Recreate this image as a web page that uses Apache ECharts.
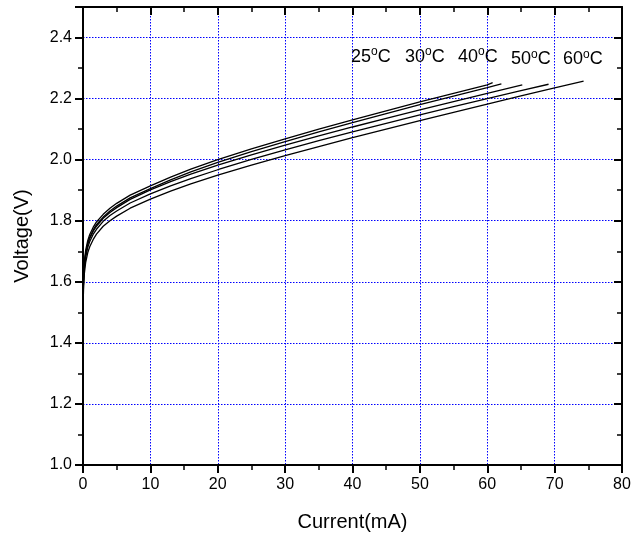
<!DOCTYPE html>
<html>
<head>
<meta charset="utf-8">
<script src="https://cdn.jsdelivr.net/npm/echarts@6/dist/echarts.min.js"></script>
<style>
html,body{margin:0;padding:0;background:#fff;}
#chart{width:643px;height:540px;}
</style>
</head>
<body>
<div id="chart"></div>
<script>
// Current (mA) sample points
const currentBase = [0, 0.02, 0.05, 0.1, 0.2, 0.4, 0.7, 1, 1.5, 2, 3, 4, 5, 7, 10, 13, 16, 20, 25, 30, 35, 40, 45, 50, 55, 60];
const current25 = currentBase.concat([60.8]);
const current30 = currentBase.concat([62.1]);
const current40 = currentBase.concat([65.2]);
const current50 = currentBase.concat([65, 69.1]);
const current60 = currentBase.concat([65, 70, 74.3]);

// Voltage (V) for each temperature
const volt25 = [1.0, 1.547, 1.594, 1.631, 1.667, 1.704, 1.735, 1.755, 1.778, 1.796, 1.821, 1.841, 1.857, 1.884, 1.914, 1.943, 1.969, 2.000, 2.035, 2.068, 2.100, 2.130, 2.160, 2.189, 2.217, 2.245, 2.252];
const volt30 = [1.0, 1.538, 1.585, 1.622, 1.658, 1.695, 1.726, 1.746, 1.769, 1.787, 1.812, 1.832, 1.848, 1.875, 1.905, 1.934, 1.960, 1.991, 2.026, 2.059, 2.091, 2.121, 2.151, 2.180, 2.208, 2.236, 2.248];
const volt40 = [1.0, 1.534, 1.582, 1.618, 1.654, 1.691, 1.722, 1.742, 1.765, 1.782, 1.808, 1.827, 1.843, 1.870, 1.901, 1.928, 1.953, 1.982, 2.016, 2.048, 2.078, 2.107, 2.135, 2.163, 2.190, 2.217, 2.245];
const volt50 = [1.0, 1.522, 1.571, 1.608, 1.644, 1.681, 1.712, 1.732, 1.755, 1.772, 1.798, 1.817, 1.832, 1.858, 1.888, 1.914, 1.938, 1.967, 2.001, 2.032, 2.062, 2.091, 2.119, 2.147, 2.174, 2.200, 2.226, 2.247];
const volt60 = [1.0, 1.505, 1.553, 1.590, 1.627, 1.664, 1.695, 1.715, 1.738, 1.756, 1.782, 1.800, 1.815, 1.841, 1.871, 1.897, 1.921, 1.949, 1.982, 2.013, 2.043, 2.072, 2.100, 2.128, 2.155, 2.182, 2.209, 2.235, 2.257];

const tempLabels = ['25', '30', '40', '50', '60'];

const FONT = 'Liberation Sans, Arial, sans-serif';
const pair = (xs, ys) => xs.map((x, i) => [x, ys[i]]);
const seriesData = [
  pair(current25, volt25),
  pair(current30, volt30),
  pair(current40, volt40),
  pair(current50, volt50),
  pair(current60, volt60)
];

const chart = echarts.init(document.getElementById('chart'), null, {renderer: 'canvas'});

const axisLineStyle = {color: '#000', width: 2};

const labelPos = [[351, 45], [405, 45], [458, 45], [511, 47.5], [563, 47.5]];

chart.setOption({
  animation: false,
  backgroundColor: '#fff',
  grid: {left: 83, right: 21, top: 7, bottom: 75, containLabel: false},
  xAxis: [
    {
      type: 'value', position: 'bottom', min: 0, max: 80, interval: 10,
      axisLine: {show: true, onZero: false, lineStyle: axisLineStyle},
      axisTick: {show: true, inside: false, length: 8, lineStyle: {color: '#000', width: 2}},
      minorTick: {show: true, splitNumber: 2, length: 5, lineStyle: {color: '#000', width: 1.5}},
      axisLabel: {show: true, margin: 12, fontSize: 16, color: '#000', fontFamily: FONT},
      splitLine: {show: true, lineStyle: {color: '#0000ff', width: 1, type: [1.5, 1.5]}},
      name: 'Current(mA)', nameLocation: 'middle', nameGap: 47,
      nameTextStyle: {fontSize: 20, color: '#000', fontFamily: FONT}
    },
    {
      type: 'value', position: 'top', min: 0, max: 80, interval: 10,
      axisLine: {show: true, onZero: false, lineStyle: axisLineStyle},
      axisTick: {show: true, inside: true, length: 8, lineStyle: {color: '#000', width: 2}},
      minorTick: {show: true, splitNumber: 2, length: 5, lineStyle: {color: '#000', width: 1.5}},
      axisLabel: {show: false},
      splitLine: {show: false}
    }
  ],
  yAxis: [
    {
      type: 'value', position: 'left', min: 1.0, max: 2.5, interval: 0.2,
      axisLine: {show: true, onZero: false, lineStyle: axisLineStyle},
      axisTick: {show: true, inside: false, length: 8, lineStyle: {color: '#000', width: 2}},
      axisLabel: {show: true, margin: 11, fontSize: 16, color: '#000', fontFamily: FONT,
        formatter: v => (v > 2.45 ? '' : v.toFixed(1))},
      splitLine: {show: true, lineStyle: {color: '#0000ff', width: 1, type: [1.5, 1.5]}},
      name: 'Voltage(V)', nameLocation: 'middle', nameGap: 51,
      nameTextStyle: {fontSize: 20, color: '#000', fontFamily: FONT}
    },
    {
      type: 'value', position: 'left', min: 1.0, max: 2.5, interval: 0.1,
      axisLine: {show: false, onZero: false},
      axisTick: {show: true, inside: false, length: 5, lineStyle: {color: '#000', width: 1.5}},
      axisLabel: {show: false},
      splitLine: {show: false}
    },
    {
      type: 'value', position: 'right', min: 1.0, max: 2.5, interval: 0.2,
      axisLine: {show: true, onZero: false, lineStyle: axisLineStyle},
      axisTick: {show: true, inside: true, length: 8, lineStyle: {color: '#000', width: 2}},
      axisLabel: {show: false},
      splitLine: {show: false}
    },
    {
      type: 'value', position: 'right', min: 1.0, max: 2.5, interval: 0.1,
      axisLine: {show: false, onZero: false},
      axisTick: {show: true, inside: true, length: 5, lineStyle: {color: '#000', width: 1.5}},
      axisLabel: {show: false},
      splitLine: {show: false}
    }
  ],
  series: seriesData.map((d, i) => ({
    type: 'line',
    name: tempLabels[i] + '°C',
    xAxisIndex: 0,
    yAxisIndex: 0,
    data: d,
    showSymbol: false,
    symbol: 'none',
    smooth: false,
    lineStyle: {color: '#000', width: 1.3},
    z: 5
  })),
  graphic: tempLabels.map((t, i) => ({
    type: 'text',
    left: labelPos[i][0],
    top: labelPos[i][1],
    z: 10,
    style: {
      text: '{a|' + t + '}{s|o}{a|C}',
      fill: '#000',
      rich: {
        a: {fontSize: 18, fontFamily: FONT, color: '#000', lineHeight: 20, verticalAlign: 'bottom', padding: [3, 0, 0, 0]},
        s: {fontSize: 12, fontFamily: FONT, color: '#000', lineHeight: 12, verticalAlign: 'top'}
      }
    }
  }))
});
</script>
</body>
</html>
